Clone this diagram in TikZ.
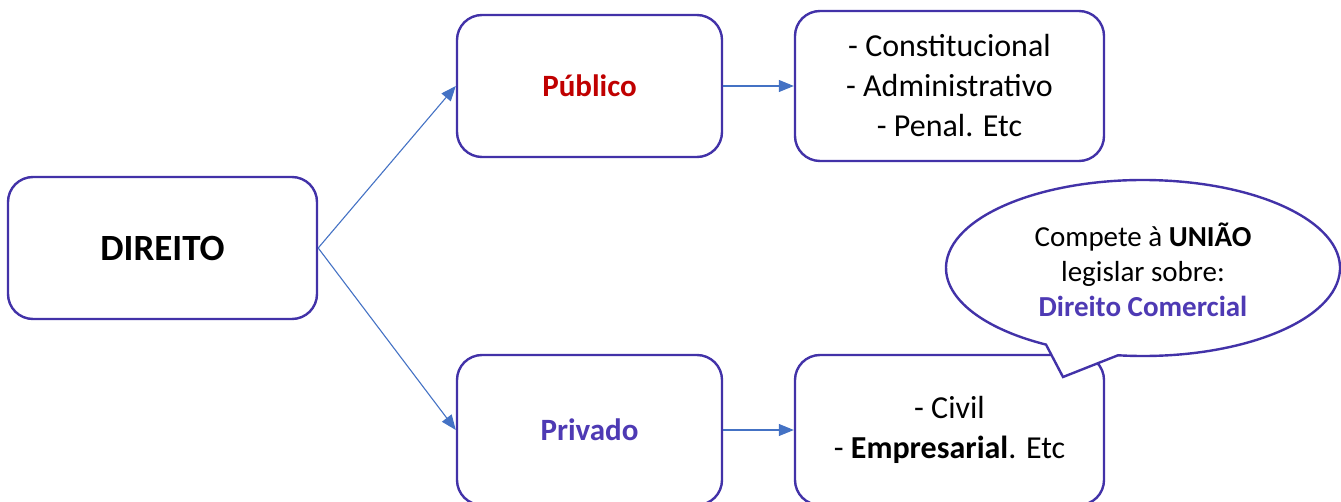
\documentclass[tikz,border=0pt]{standalone}
\usepackage{fontspec}
\setmainfont{Carlito}
\usetikzlibrary{arrows.meta}
\definecolor{boxline}{RGB}{66,50,168}
\definecolor{purpletxt}{RGB}{78,58,180}
\definecolor{redtxt}{RGB}{192,0,0}
\definecolor{arrowblue}{RGB}{68,114,196}
\tikzset{
  box/.style={draw=boxline, line width=2.4pt, rounded corners=25pt, fill=white,
    inner sep=0pt, align=center, font=\fontsize{32}{40}\selectfont},
  conn/.style={draw=arrowblue, line width=1.1pt, -{Triangle[length=15pt,width=12pt]}},
  calloutshape/.style={draw=boxline, line width=2.4pt, fill=white, line join=miter}
}
\begin{document}
\begin{tikzpicture}[x=1pt,y=1pt]
\useasboundingbox (0,0) rectangle (1341,501);
\node[box, minimum width=309pt, minimum height=142pt, font=\fontsize{37}{44}\selectfont\bfseries] (direito) at (162.5,253) {DIREITO};
\node[box, minimum width=265pt, minimum height=142pt, text=redtxt, font=\fontsize{31}{40}\selectfont\bfseries] (publico) at (589.5,415) {Público};
\node[box, minimum width=309pt, minimum height=150pt] (pubList) at (949.5,415) {- Constitucional\\- Administrativo\\- Penal. Etc};
\node[box, minimum width=265pt, minimum height=150pt, text=purpletxt, font=\fontsize{31}{40}\selectfont\bfseries] (privado) at (589.5,71) {Privado};
\node[box, minimum width=309pt, minimum height=150pt] (privList) at (949.5,71) {- Civil\\- \textbf{Empresarial}. Etc};
\draw[conn] (direito.east) -- (publico.west);
\draw[conn] (direito.east) -- (privado.west);
\draw[conn] (publico.east) -- (pubList.west);
\draw[conn] (privado.east) -- (privList.west);
\coordinate (ctip) at (1063,124);
\draw[calloutshape] ([shift={(262.7:197pt and 88pt)}]1143,233) arc[start angle=262.7, end angle=600.5, x radius=197pt, y radius=88pt] -- (ctip) -- cycle;
\node[align=center, font=\fontsize{29}{35}\selectfont] (callText) at (1143,231) {Compete à \textbf{UNIÃO}\\legislar sobre:\\\textcolor{purpletxt}{\textbf{Direito Comercial}}};
\end{tikzpicture}
\end{document}
